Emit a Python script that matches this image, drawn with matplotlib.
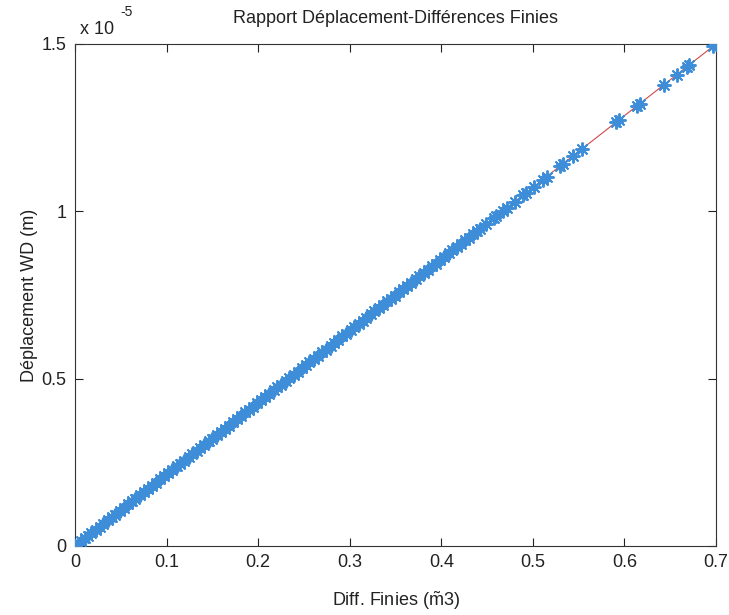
import matplotlib
matplotlib.use("Agg")
import matplotlib.pyplot as plt

plt.rcParams['font.family'] = ['Liberation Sans', 'DejaVu Sans']
plt.rcParams['mathtext.fontset'] = 'custom'
plt.rcParams['mathtext.rm'] = 'Liberation Sans'
plt.rcParams['mathtext.it'] = 'Liberation Sans:italic'

# Data (y in units of 1e-5 m)
diff_finies = [
    0.000, 0.003, 0.007, 0.011, 0.014, 0.018, 0.023, 0.027, 0.031, 0.036,
    0.040, 0.044, 0.049, 0.053, 0.058, 0.062, 0.066, 0.071, 0.075, 0.080,
    0.084, 0.088, 0.093, 0.097, 0.102, 0.106, 0.111, 0.115, 0.119, 0.124,
    0.128, 0.133, 0.137, 0.141, 0.146, 0.150, 0.155, 0.159, 0.164, 0.168,
    0.172, 0.177, 0.181, 0.186, 0.190, 0.194, 0.199, 0.203, 0.208, 0.212,
    0.217, 0.221, 0.225, 0.230, 0.234, 0.239, 0.243, 0.248, 0.252, 0.256,
    0.261, 0.265, 0.270, 0.274, 0.279, 0.283, 0.287, 0.292, 0.296, 0.301,
    0.305, 0.310, 0.314, 0.318, 0.323, 0.327, 0.332, 0.336, 0.341, 0.345,
    0.349, 0.354, 0.358, 0.363, 0.367, 0.372, 0.376, 0.381, 0.385, 0.390,
    0.394, 0.399, 0.403, 0.408, 0.412, 0.417, 0.421, 0.426, 0.430, 0.435,
    0.439, 0.442, 0.449, 0.457, 0.460, 0.467, 0.472, 0.480, 0.489, 0.493,
    0.501, 0.511, 0.515, 0.530, 0.533, 0.544, 0.554, 0.591, 0.594, 0.614,
    0.617, 0.643, 0.657, 0.668, 0.670, 0.697, 0.700,
]
deplacement_e5 = [
    0.000, 0.006, 0.015, 0.024, 0.030, 0.039, 0.049, 0.058, 0.066, 0.077,
    0.086, 0.094, 0.105, 0.114, 0.124, 0.133, 0.141, 0.152, 0.161, 0.171,
    0.180, 0.189, 0.199, 0.208, 0.219, 0.227, 0.238, 0.246, 0.255, 0.266,
    0.274, 0.285, 0.294, 0.302, 0.313, 0.321, 0.332, 0.341, 0.351, 0.360,
    0.369, 0.379, 0.388, 0.399, 0.407, 0.416, 0.426, 0.435, 0.446, 0.454,
    0.465, 0.474, 0.482, 0.493, 0.501, 0.512, 0.521, 0.531, 0.540, 0.549,
    0.559, 0.568, 0.579, 0.587, 0.598, 0.606, 0.615, 0.626, 0.634, 0.645,
    0.654, 0.664, 0.673, 0.681, 0.692, 0.701, 0.711, 0.720, 0.731, 0.739,
    0.748, 0.759, 0.767, 0.778, 0.786, 0.797, 0.806, 0.816, 0.825, 0.836,
    0.844, 0.855, 0.864, 0.874, 0.883, 0.894, 0.902, 0.913, 0.921, 0.932,
    0.941, 0.947, 0.962, 0.979, 0.986, 1.001, 1.011, 1.029, 1.048, 1.056,
    1.074, 1.095, 1.104, 1.136, 1.142, 1.166, 1.187, 1.266, 1.273, 1.316,
    1.322, 1.378, 1.408, 1.432, 1.436, 1.494, 1.500,
]
fit_x = [0.0, 0.7]
fit_y = [0.0, 1.5]

x_ticks = [0, 0.1, 0.2, 0.3, 0.4, 0.5, 0.6, 0.7]
x_tick_labels = ['0', '0.1', '0.2', '0.3', '0.4', '0.5', '0.6', '0.7']
y_ticks = [0, 0.5, 1.0, 1.5]
y_tick_labels = ['0', '0.5', '1', '1.5']

fig = plt.figure(figsize=(7.29, 6.15), dpi=100)
ax = fig.add_axes([0.1029, 0.1122, 0.8793, 0.8163])

ax.plot(fit_x, fit_y, color='#d04848', linewidth=0.8, zorder=2)
ax.plot(diff_finies, deplacement_e5, linestyle='none', marker=(8, 2, 0),
        markersize=10, markeredgewidth=1.4, markeredgecolor='#3d8dd8',
        markerfacecolor='#3d8dd8', zorder=3)

ax.set_xlim(0, 0.7)
ax.set_ylim(0, 1.5)
ax.set_xticks(x_ticks)
ax.set_xticklabels(x_tick_labels)
ax.set_yticks(y_ticks)
ax.set_yticklabels(y_tick_labels)
ax.tick_params(direction='in', top=True, right=True, length=6, width=0.8,
               labelsize=13, colors='#222222', pad=6)
for s in ax.spines.values():
    s.set_linewidth(0.8)
    s.set_color('#333333')

ax.set_title('Rapport Déplacement-Différences Finies', fontsize=13, pad=15,
             color='#222222')
ax.set_xlabel(r'Diff. Finies ($\tilde{\mathrm{m}}$3)', fontsize=13,
              labelpad=13, color='#222222')
ax.set_ylabel('Déplacement WD (m)', fontsize=13, labelpad=3, color='#222222')

fig.text(80 / 729, 1 - 34 / 615, 'x 10', fontsize=13, color='#222222',
         ha='left', va='baseline')
fig.text(120 / 729, 1 - 16 / 615, '-5', fontsize=10, color='#222222',
         ha='left', va='baseline')

fig.savefig('out.png', dpi=100)
